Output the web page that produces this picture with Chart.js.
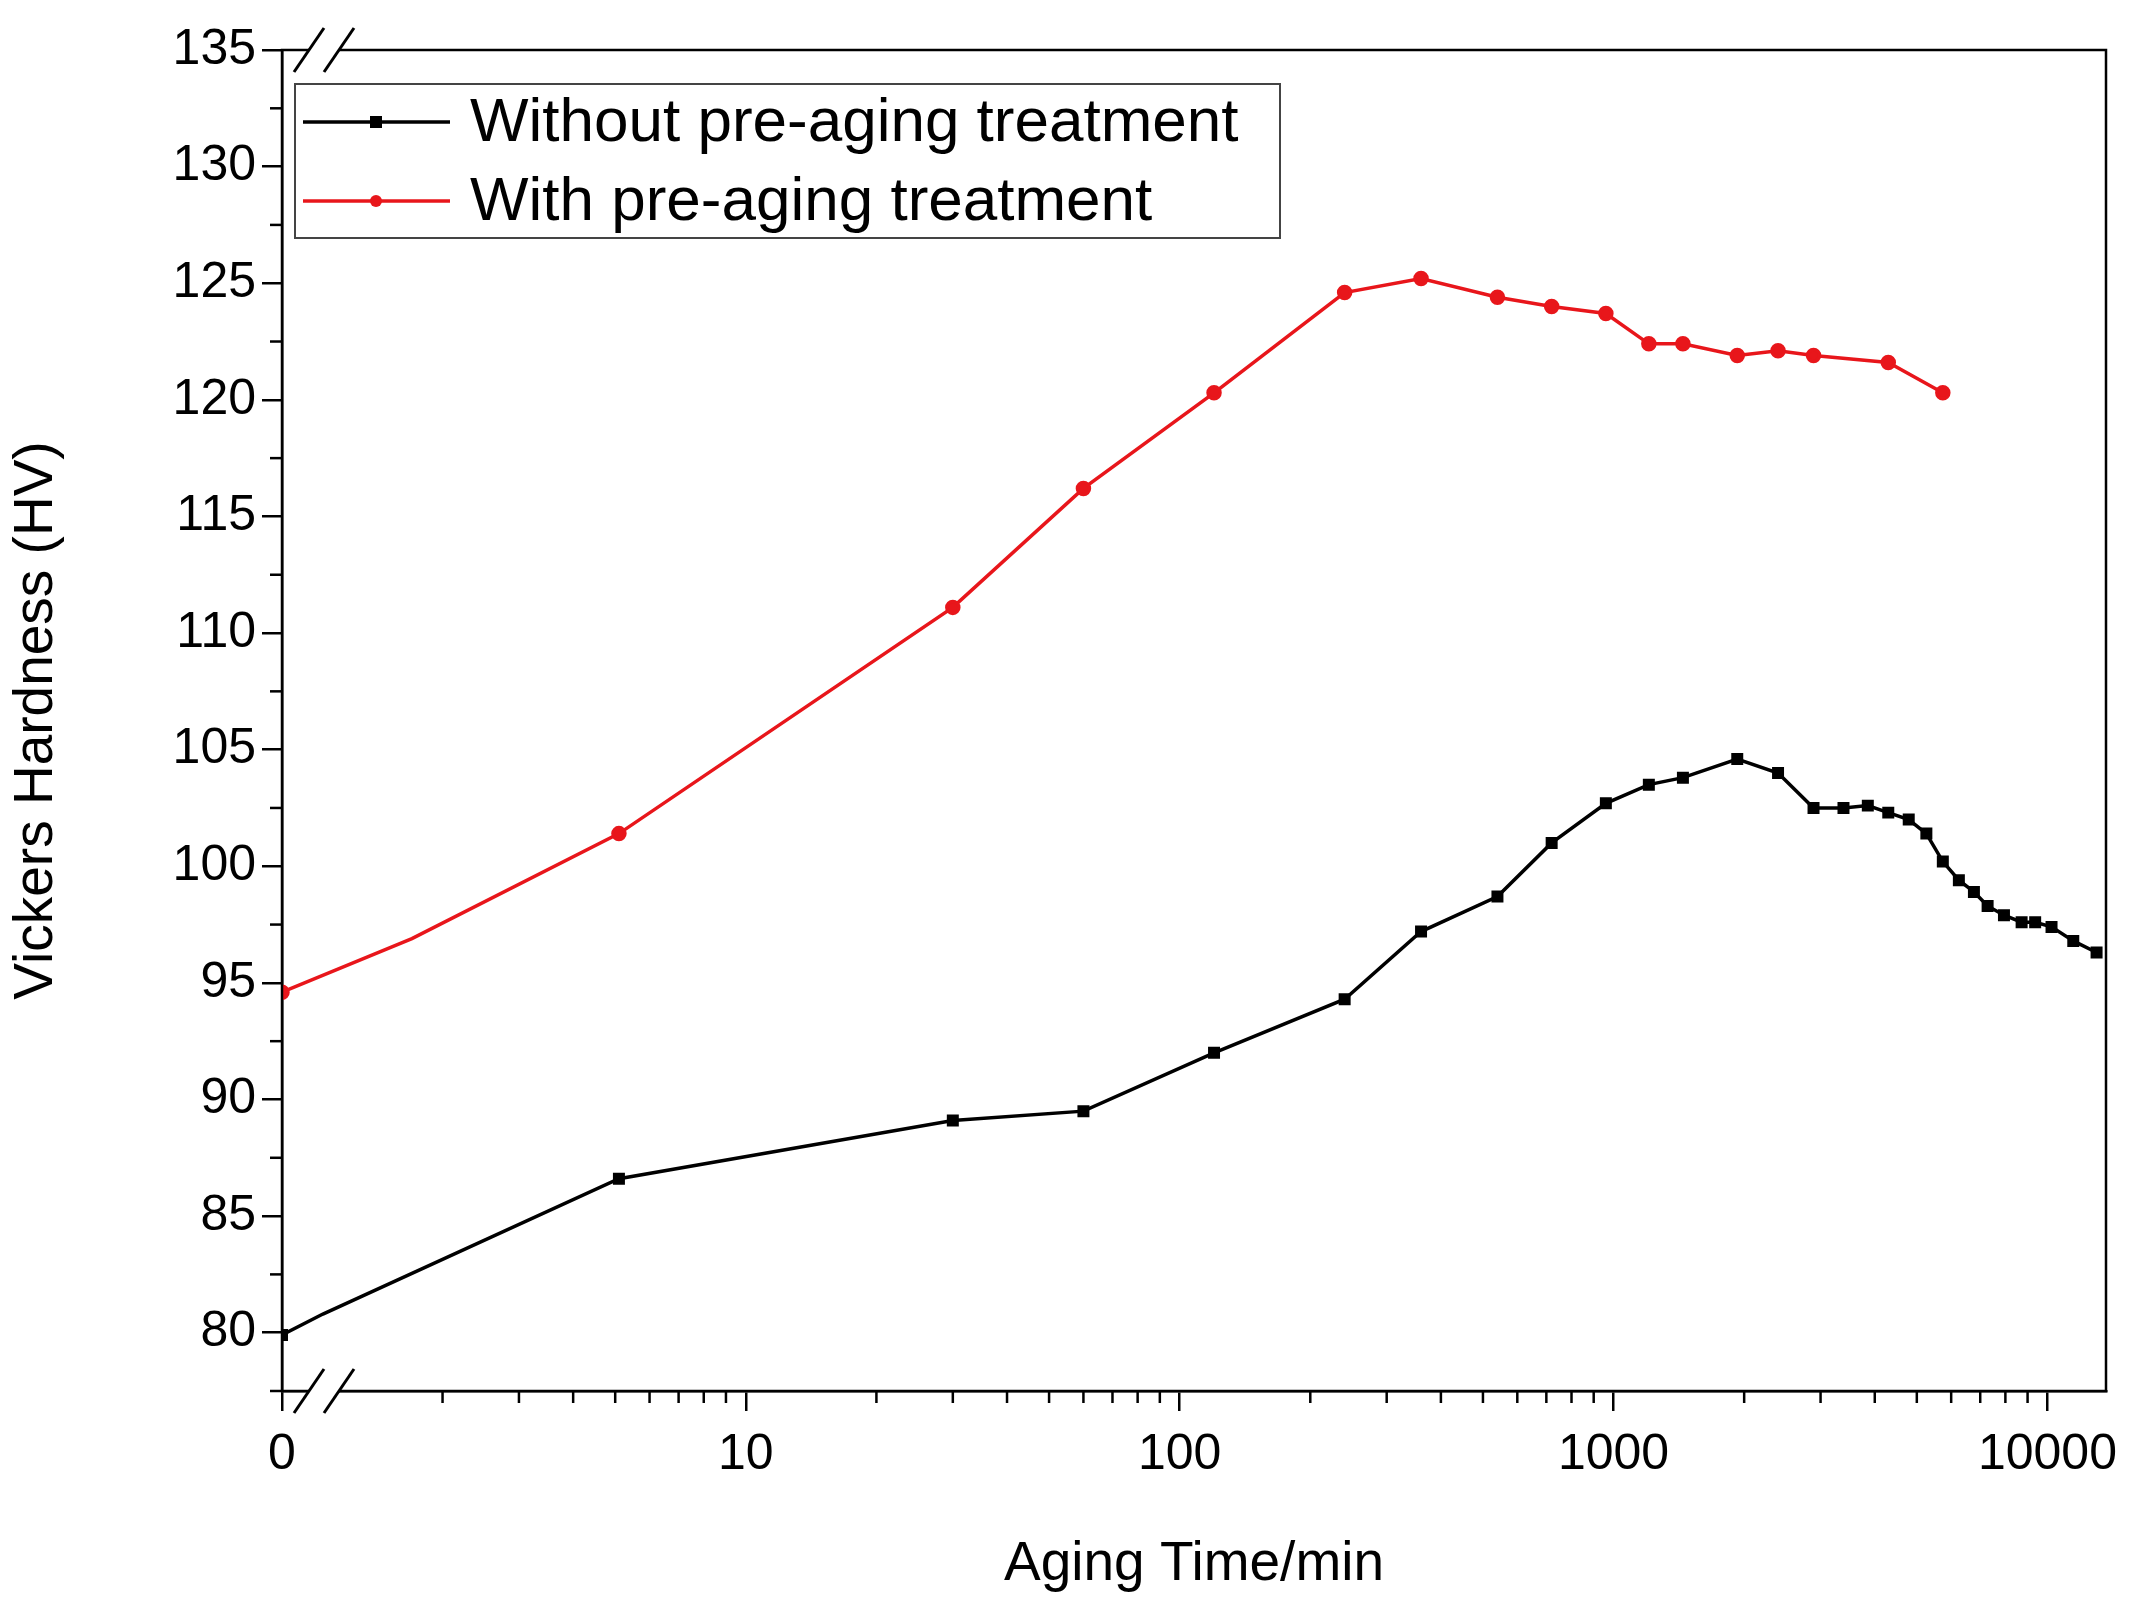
<!DOCTYPE html>
<html>
<head>
<meta charset="utf-8">
<script src="https://cdn.jsdelivr.net/npm/chart.js@4/dist/chart.umd.min.js"></script>
<style>
  html, body { margin: 0; padding: 0; background: #fff; }
  #wrap { width: 2133px; height: 1602px; }
</style>
</head>
<body>
<div id="wrap"><canvas id="c"></canvas></div>
<script>
// aging time in minutes (0 = as-quenched, drawn at the "0" break position)
const timesPlain = [0, 1.06, 5.1, 30, 60, 120, 240, 360, 540, 720, 960, 1206, 1445, 1928, 2394, 2890, 3388, 3855, 4297, 4790, 5260, 5740, 6250, 6770, 7280, 7940, 8720, 9370, 10220, 11470, 12980];
const hardPlain = [79.9, 80.8, 86.6, 89.1, 89.5, 92.0, 94.3, 97.2, 98.7, 101.0, 102.7, 103.5, 103.8, 104.6, 104.0, 102.5, 102.5, 102.6, 102.3, 102.0, 101.4, 100.2, 99.4, 98.9, 98.3, 97.9, 97.6, 97.6, 97.4, 96.8, 96.3];
const timesPre = [0, 1.7, 5.1, 30, 60, 120, 240, 360, 540, 720, 960, 1206, 1445, 1928, 2394, 2890, 4297, 5740];
const hardPre = [94.6, 96.9, 101.4, 111.1, 116.2, 120.3, 124.6, 125.2, 124.4, 124.0, 123.7, 122.4, 122.4, 121.9, 122.1, 121.9, 121.6, 120.3];
const seriesNames = ['Without pre-aging treatment', 'With pre-aging treatment'];
const xTickValues = [10, 100, 1000, 10000];
const yTicks = [80, 85, 90, 95, 100, 105, 110, 115, 120, 125, 130, 135];

const ZERO_POS = -0.069; // log position where "0" sits
function toPos(t) { return t === 0 ? ZERO_POS : Math.log10(t); }
function pts(ts, vs) { return ts.map((t, i) => ({ x: toPos(t), y: vs[i] })); }
// the kink just after t=0 has no marker in the original
function radii(ts) { return ts.map((t, i) => i === 1 ? 0 : 6); }

const FONT = 'Liberation Sans, Arial, sans-serif';

// minor ticks, frame, axis break marks and legend box
const extras = {
  id: 'extras',
  afterDraw(chart) {
    const ctx = chart.ctx, a = chart.chartArea;
    const xs = chart.scales.x, ys = chart.scales.y;
    ctx.save();
    ctx.strokeStyle = '#000';
    ctx.lineWidth = 2.5;
    ctx.strokeRect(a.left, a.top, a.right - a.left, a.bottom - a.top);
    // y minor ticks
    for (let v = 77.5; v <= 135; v += 2.5) {
      if (v % 5 === 0) continue;
      const y = ys.getPixelForValue(v);
      ctx.beginPath(); ctx.moveTo(a.left - 12, y); ctx.lineTo(a.left, y); ctx.stroke();
    }
    // x minor log ticks
    for (let d = 0; d <= 4; d++) {
      for (let m = 2; m <= 9; m++) {
        const p = d + Math.log10(m);
        if (p > xs.max) continue;
        const x = xs.getPixelForValue(p);
        ctx.beginPath(); ctx.moveTo(x, a.bottom); ctx.lineTo(x, a.bottom + 12); ctx.stroke();
      }
    }
    // break marks
    [a.top, a.bottom].forEach(y0 => {
      ctx.fillStyle = '#fff';
      ctx.beginPath();
      ctx.moveTo(a.left + 12, y0 + 22); ctx.lineTo(a.left + 42, y0 + 22);
      ctx.lineTo(a.left + 72, y0 - 22); ctx.lineTo(a.left + 42, y0 - 22);
      ctx.closePath(); ctx.fill();
      ctx.lineWidth = 3;
      [12, 42].forEach(o => {
        ctx.beginPath(); ctx.moveTo(a.left + o, y0 + 22); ctx.lineTo(a.left + o + 30, y0 - 22); ctx.stroke();
      });
    });
    // legend
    const lx = 295, ly = 84, lw = 985, lh = 154;
    ctx.fillStyle = '#fff';
    ctx.fillRect(lx, ly, lw, lh);
    ctx.lineWidth = 2;
    ctx.strokeStyle = '#444';
    ctx.strokeRect(lx, ly, lw, lh);
    ctx.font = '62px ' + FONT;
    ctx.textBaseline = 'middle';
    chart.data.datasets.forEach((ds, i) => {
      const y = ly + 38 + i * 79;
      ctx.strokeStyle = ds.borderColor; ctx.lineWidth = 3.5;
      ctx.beginPath(); ctx.moveTo(lx + 8, y); ctx.lineTo(lx + 155, y); ctx.stroke();
      ctx.fillStyle = ds.borderColor;
      if (ds.pointStyle === 'rect') ctx.fillRect(lx + 75, y - 6, 12, 12);
      else { ctx.beginPath(); ctx.arc(lx + 81, y, 6, 0, Math.PI * 2); ctx.fill(); }
      ctx.fillStyle = '#000';
      ctx.fillText(ds.label, lx + 175, y + 2);
    });
    ctx.restore();
  }
};

new Chart(document.getElementById('c'), {
  type: 'line',
  data: {
    datasets: [
      { label: seriesNames[0], data: pts(timesPlain, hardPlain), borderColor: '#000', backgroundColor: '#000',
        borderWidth: 3.5, pointStyle: 'rect', pointRadius: radii(timesPlain), tension: 0 },
      { label: seriesNames[1], data: pts(timesPre, hardPre), borderColor: '#e8161b', backgroundColor: '#e8161b',
        borderWidth: 3.5, pointStyle: 'circle', pointRadius: radii(timesPre), tension: 0 }
    ]
  },
  options: {
    responsive: true,
    maintainAspectRatio: false,
    animation: false,
    layout: { padding: { top: 50, right: 27, left: 0, bottom: 0 } },
    plugins: { legend: { display: false }, tooltip: { enabled: false } },
    scales: {
      x: {
        type: 'linear', min: ZERO_POS, max: 4.135,
        afterBuildTicks: s => { s.ticks = [ZERO_POS].concat(xTickValues.map(v => Math.log10(v))).map(v => ({ value: v })); },
        afterFit: s => { s.height = 211; },
        ticks: {
          callback: v => v === ZERO_POS ? '0' : String(Math.round(Math.pow(10, v))),
          font: { size: 50, family: FONT }, color: '#000', padding: 14, maxRotation: 0, autoSkip: false
        },
        grid: { drawOnChartArea: false, tickLength: 20, color: '#000', lineWidth: 2.5 },
        border: { color: '#000', width: 2.5 },
        title: { display: true, text: 'Aging Time/min', font: { size: 55, family: FONT }, color: '#000', padding: { top: 0 } }
      },
      y: {
        min: 77.5, max: 135,
        afterBuildTicks: s => { s.ticks = yTicks.map(v => ({ value: v })); },
        afterFit: s => { s.width = 282; },
        ticks: { font: { size: 50, family: FONT }, color: '#000', padding: 6 },
        grid: { drawOnChartArea: false, tickLength: 20, color: '#000', lineWidth: 2.5 },
        border: { color: '#000', width: 2.5 },
        title: { display: true, text: 'Vickers Hardness (HV)', font: { size: 55, family: FONT }, color: '#000', padding: { bottom: 0 } }
      }
    }
  },
  plugins: [extras]
});
</script>
</body>
</html>
